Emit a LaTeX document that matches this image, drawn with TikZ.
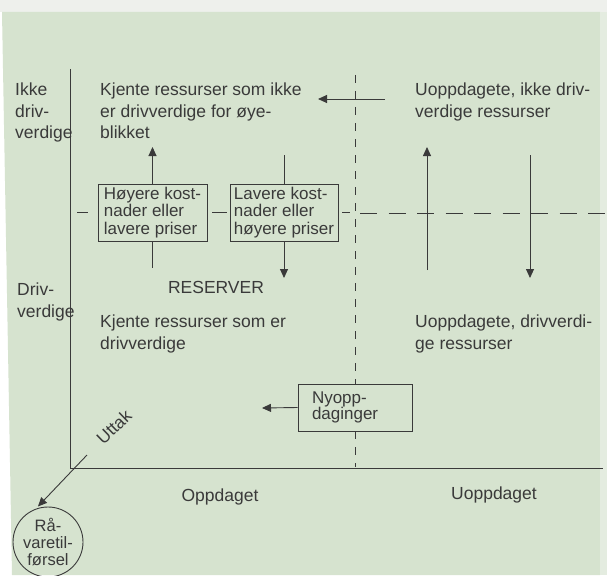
\documentclass[tikz,border=0pt]{standalone}
\usepackage{fontspec}
\setmainfont{Liberation Sans}
\usetikzlibrary{arrows.meta}
\definecolor{bggreen}{RGB}{214,227,207}
\definecolor{bgstrip}{RGB}{228,236,224}
\definecolor{bgtop}{RGB}{238,240,236}
\definecolor{ink}{RGB}{58,58,58}
\begin{document}
\begin{tikzpicture}[x=1pt,y=-1pt,
  every node/.style={text=ink},
  txt/.style={inner sep=0pt, anchor=north west, align=left, font=\fontsize{17.5}{21.5}\selectfont},
  ctxt/.style={inner sep=0pt, font=\fontsize{17.5}{21.5}\selectfont},
  boxnode/.style={draw=ink, line width=0.9pt, fill=bggreen, align=left, minimum height=57pt, inner sep=1pt, font=\fontsize{17}{17.5}\selectfont},
  ln/.style={draw=ink, line width=0.9pt},
  arr/.style={ln, -{Triangle[length=9pt,width=8pt]}},
  vdash/.style={ln, dash pattern=on 8pt off 8pt},
  hdash/.style={ln, dash pattern=on 17pt off 11.5pt}]
\useasboundingbox (0,0) rectangle (607,575);
% background
\fill[bgtop] (0,0) rectangle (607,12);
\fill[white] (0,12) rectangle (607,575);
\fill[bggreen] (2,12) -- (600,12) -- (600,575) -- (12,575) -- cycle;
\fill[bgstrip] (600,12) rectangle (607,575);

% axes
\coordinate (O) at (70,468);
\coordinate (Ytop) at (70,69);
\coordinate (Xend) at (603,468);
\draw[ln] (Ytop) -- (O) -- (Xend);

% boxes
\node[boxnode, minimum width=109pt] (b1) at (152.5,212.5) {Høyere kost-\\nader eller\\lavere priser};
\node[boxnode, minimum width=108pt] (b2) at (284,212.5) {Lavere kost-\\nader eller\\høyere priser};
\node[boxnode, text width=86pt, inner xsep=14pt, minimum height=47pt, font=\fontsize{17}{16}\selectfont] (ny) at (355,407.5) {Nyopp-\\daginger};

% vertical dashed divider
\coordinate (Dtop) at (355,75);
\coordinate (Dbot) at (355,467);
\draw[vdash] (Dtop) -- (ny.north);
\draw[vdash] (ny.south) -- (Dbot);

% horizontal dashed divider
\coordinate (Hl) at (355,213);
\coordinate (Hr) at (607,213);
\draw[hdash, dash phase=-5pt] (Hl) -- (Hr);
\draw[ln] ([xshift=-10pt]b1.west) -- ([xshift=-21pt]b1.west);
\draw[ln] ([xshift=5pt]b1.east) -- ([xshift=20pt]b1.east);
\draw[ln] ([xshift=4pt]b2.east) -- ([xshift=12pt]b2.east);

% texts
\node[txt] (ikke) at (15,83) {Ikke\\driv-\\verdige};
\node[txt] (kj1) at (100,83) {Kjente ressurser som ikke\\er drivverdige for øye-\\blikket};
\node[txt] (up1) at (415,83) {Uoppdagete, ikke driv-\\verdige ressurser};
\node[txt] (driv) at (17,283) {Driv-\\verdige};
\node[txt] (kj2) at (100,315) {Kjente ressurser som er\\drivverdige};
\node[txt] (up2) at (415,315) {Uoppdagete, drivverdi-\\ge ressurser};
\node[ctxt] (res) at (216,287) {RESERVER};
\node[ctxt] (opp) at (220,497) {Oppdaget};
\node[ctxt] (uopp) at (494,495) {Uoppdaget};
\node[ctxt, rotate=44] (utt) at (114,427) {Uttak};

% circle
\node[draw=ink, line width=0.9pt, circle, minimum size=70pt, inner sep=-9pt, align=center, font=\fontsize{16.5}{17}\selectfont] (circ) at (48,542) {Rå-\\varetil-\\førsel};

% arrows
\coordinate (a1s) at (385,99);
\coordinate (a1e) at (318,99);
\draw[arr] (a1s) -- (a1e);

\coordinate (b1up) at (152.5,147);
\coordinate (b1dn) at (152.5,268);
\draw[arr] (b1.north) -- (b1up);
\draw[ln] (b1.south) -- (b1dn);

\coordinate (b2up) at (284,155);
\coordinate (b2dn) at (284,278);
\draw[ln] (b2up) -- (b2.north);
\draw[arr] (b2.south) -- (b2dn);

\coordinate (r1s) at (427,270);
\coordinate (r1e) at (427,147);
\draw[arr] (r1s) -- (r1e);
\coordinate (r2s) at (530,155);
\coordinate (r2e) at (530,278);
\draw[arr] (r2s) -- (r2e);

\coordinate (nyend) at (262,408);
\draw[arr] (ny.west) -- (nyend);

\coordinate (u0) at (87,455);
\draw[arr, shorten >=3pt] (u0) -- (circ.110);
\end{tikzpicture}
\end{document}
